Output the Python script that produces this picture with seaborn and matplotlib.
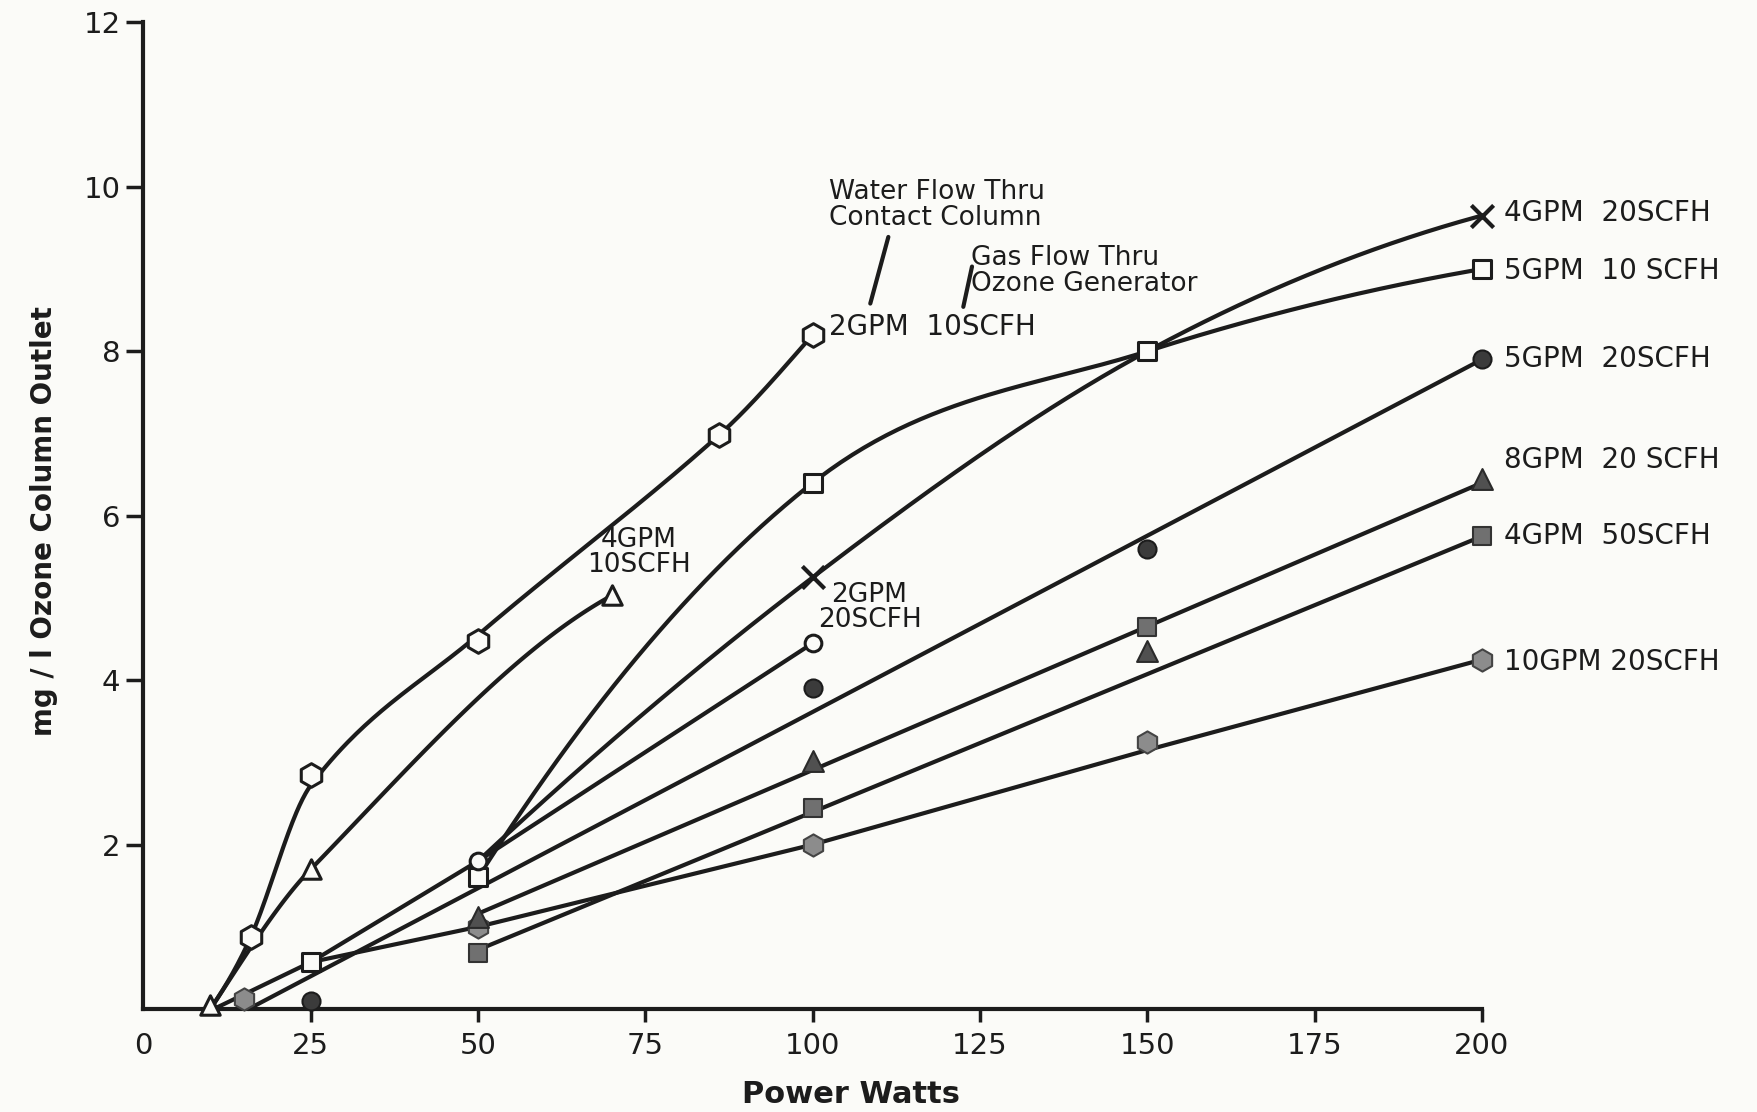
import numpy as np
import matplotlib
matplotlib.use("Agg")
import matplotlib.pyplot as plt
import seaborn as sns

# --- plotted symbols (power W, mg/l) ---
hexo_x = [16, 25, 50, 86, 100]          # 2 GPM 10 SCFH
hexo_y = [0.87, 2.85, 4.48, 6.98, 8.2]
trio_x = [10, 25, 70]                   # 4 GPM 10 SCFH
trio_y = [0.05, 1.7, 5.03]
sqo_x = [25, 50, 100, 150, 200]         # 5 GPM 10 SCFH
sqo_y = [0.57, 1.6, 6.4, 8.0, 9.0]
circo_x = [50, 100]                     # 2 GPM 20 SCFH
circo_y = [1.8, 4.45]
cross_x = [100, 200]                    # 4 GPM 20 SCFH
cross_y = [5.25, 9.65]
circf_x = [25, 100, 150, 200]           # 5 GPM 20 SCFH
circf_y = [0.1, 3.9, 5.6, 7.9]
trif_x = [50, 100, 150, 200]            # 8 GPM 20 SCFH
trif_y = [1.12, 3.02, 4.35, 6.45]
sqf_x = [50, 100, 150, 200]             # 4 GPM 50 SCFH
sqf_y = [0.68, 2.45, 4.65, 5.75]
hexf_x = [15, 50, 100, 150, 200]        # 10 GPM 20 SCFH
hexf_y = [0.12, 1.0, 2.0, 3.25, 4.25]

# --- hand drawn curves of the original ---
hexo_line_x = [10, 16, 25, 50, 86, 100]
hexo_line_y = [0, 0.87, 2.72, 4.55, 6.98, 8.2]
trio_line_x = [10, 25, 70]
trio_line_y = [0, 1.7, 5.03]
sqo_line_x = [50, 100, 150, 200]
sqo_line_y = [1.6, 6.4, 8.0, 9.0]
cross_line_x = [50, 100, 150, 200]
cross_line_y = [1.8, 5.25, 8.0, 9.65]
circo_line_x = [10.5, 25, 50, 100]
circo_line_y = [0, 0.57, 1.8, 4.45]
circf_line_x = [15.7, 200]
circf_line_y = [0, 7.9]
trif_line_x = [50, 200]
trif_line_y = [1.16, 6.4]
sqf_line_x = [50, 200]
sqf_line_y = [0.72, 5.75]
hexf_line_x = [25, 50, 100, 150, 200]
hexf_line_y = [0.57, 1.0, 2.0, 3.15, 4.25]

right_labels = ["4GPM  20SCFH", "5GPM  10 SCFH", "5GPM  20SCFH",
                "8GPM  20 SCFH", "4GPM  50SCFH", "10GPM 20SCFH"]
right_label_y = [9.68, 8.98, 7.9, 6.68, 5.75, 4.22]

ink = "#1c1c1c"
paper = "#fbfbf8"


def smooth(xs, ys, n=60):
    # cubic hermite through the drawn points, central-difference slopes
    xs = np.asarray(xs, float)
    ys = np.asarray(ys, float)
    if len(xs) < 3:
        return xs, ys
    h = np.diff(xs)
    d = np.diff(ys) / h
    m = np.empty_like(xs)
    for i in range(1, len(xs) - 1):
        m[i] = (ys[i + 1] - ys[i - 1]) / (xs[i + 1] - xs[i - 1])
    m[0] = ((2 * h[0] + h[1]) * d[0] - h[0] * d[1]) / (h[0] + h[1])
    m[-1] = ((2 * h[-1] + h[-2]) * d[-1] - h[-1] * d[-2]) / (h[-1] + h[-2])
    px, py = [], []
    t = np.linspace(0, 1, n)
    for i in range(len(xs) - 1):
        h00 = 2 * t**3 - 3 * t**2 + 1
        h10 = t**3 - 2 * t**2 + t
        h01 = -2 * t**3 + 3 * t**2
        h11 = t**3 - t**2
        px.append(xs[i] + t * h[i])
        py.append(h00 * ys[i] + h10 * h[i] * m[i] + h01 * ys[i + 1] + h11 * h[i] * m[i + 1])
    return np.concatenate(px), np.concatenate(py)


sns.set_style("ticks")
plt.rcParams['font.family'] = ['DejaVu Sans']

fig = plt.figure(figsize=(17.58, 11.12), dpi=100, facecolor=paper)
ax = fig.add_axes([0.0816, 0.0926, 0.7614, 0.8873], facecolor=paper)

# curves
curved = [(hexo_line_x, hexo_line_y), (trio_line_x, trio_line_y),
          (sqo_line_x, sqo_line_y), (cross_line_x, cross_line_y)]
for lx, ly in curved:
    sx, sy = smooth(lx, ly)
    sns.lineplot(x=sx, y=sy, sort=False, estimator=None, color=ink, linewidth=3,
                 clip_on=False, ax=ax)

straight = [(circo_line_x, circo_line_y), (circf_line_x, circf_line_y),
            (trif_line_x, trif_line_y), (sqf_line_x, sqf_line_y),
            (hexf_line_x, hexf_line_y)]
for lx, ly in straight:
    sns.lineplot(x=lx, y=ly, sort=False, estimator=None, color=ink, linewidth=3,
                 clip_on=False, ax=ax)

# symbols
def marks(x, y, marker, size, face, lw=2.2, edge=ink):
    sns.scatterplot(x=x, y=y, marker=marker, s=size**2, color=face, edgecolor=edge,
                    linewidth=lw, zorder=4, clip_on=False, ax=ax, legend=False)

marks(hexo_x, hexo_y, "h", 17, paper)
marks(trio_x, trio_y, "^", 14, paper)
marks(sqo_x, sqo_y, "s", 13, paper)
marks(circo_x, circo_y, "o", 12, paper)
marks(circf_x, circf_y, "o", 13, "#3b3b3b", lw=1.5)
marks(sqf_x, sqf_y, "s", 13, "#707070", lw=1.5, edge="#333333")
marks(hexf_x, hexf_y, "h", 16, "#8c8c8c", lw=1.5, edge="#444444")
marks(trif_x, trif_y, "^", 15, "#505050", lw=1.5, edge="#2a2a2a")
sns.scatterplot(x=cross_x, y=cross_y, marker="x", s=16**2, color=ink, linewidth=3,
                zorder=4, clip_on=False, ax=ax, legend=False)

# axes
ax.set_xlim(0, 200)
ax.set_ylim(0, 12)
ax.set_xticks(np.arange(0, 201, 25))
ax.set_yticks(np.arange(2, 13, 2))
sns.despine(ax=ax)
for s in ["left", "bottom"]:
    ax.spines[s].set_linewidth(3)
    ax.spines[s].set_color(ink)
ax.tick_params(axis="y", length=12.5, width=2.5, pad=4, labelsize=21, colors=ink)
ax.tick_params(axis="x", length=9.5, width=2.5, pad=7, labelsize=21, colors=ink)
ax.xaxis.get_major_ticks()[0].tick1line.set_visible(False)

ax.set_xlabel("Power Watts", fontsize=22, fontweight="bold", color=ink)
ax.xaxis.set_label_coords(0.5286, -0.072)
ax.set_ylabel("mg / l Ozone Column Outlet", fontsize=20, fontweight="bold", color=ink)
ax.yaxis.set_label_coords(-0.064, 0.495)

# labels
for lab, yy in zip(right_labels, right_label_y):
    ax.text(203.3, yy, lab, fontsize=20, ha="left", va="center", color=ink, clip_on=False)

ax.text(102.5, 8.3, "2GPM  10SCFH", fontsize=20, ha="left", va="center", color=ink)
ax.text(102.5, 9.78, "Water Flow Thru\nContact Column", fontsize=19, ha="left",
        va="center", linespacing=1.0, color=ink)
ax.text(123.6, 8.98, "Gas Flow Thru\nOzone Generator", fontsize=19, ha="left",
        va="center", linespacing=1.0, color=ink)
ax.text(74.0, 5.55, "4GPM\n10SCFH", fontsize=19, ha="center", va="center",
        linespacing=0.95, color=ink)
ax.text(108.5, 4.88, "2GPM\n20SCFH", fontsize=19, ha="center", va="center",
        linespacing=0.95, color=ink)

# pointer strokes from the captions
ax.plot([111.3, 108.6], [9.39, 8.58], color=ink, linewidth=3)
ax.plot([123.8, 122.5], [9.03, 8.54], color=ink, linewidth=3)

fig.savefig("out.png", dpi=100, facecolor=paper)
